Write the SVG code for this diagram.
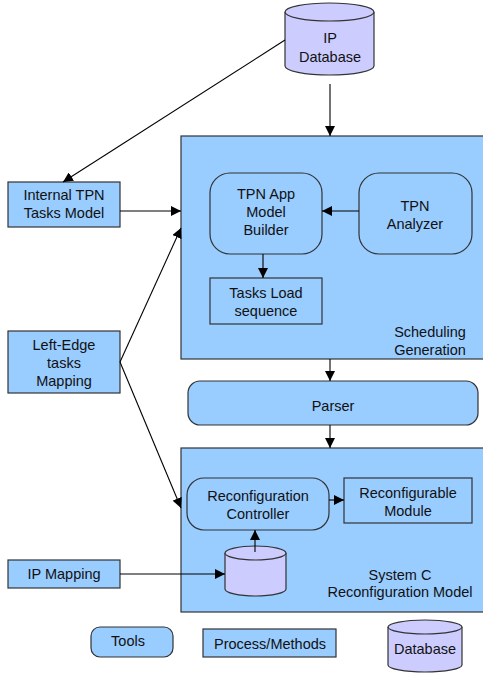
<svg xmlns="http://www.w3.org/2000/svg" width="483" height="673" viewBox="0 0 483 673">
<style>
.b{fill:#99ccff;stroke:#333;stroke-width:1.2}
.d{fill:#ccccff;stroke:#333;stroke-width:1.2}
.c{fill:none;stroke:#000;stroke-width:1.1}
text{font-family:"Liberation Sans",Arial,sans-serif;font-size:14.5px;fill:#111;text-anchor:middle}
</style>
<defs>
<marker id="a" viewBox="0 0 10 10" refX="10" refY="5" markerWidth="10" markerHeight="10" markerUnits="userSpaceOnUse" orient="auto">
<path d="M0,0 L10,5 L0,10 Z" fill="#000"/>
</marker>
</defs>
<rect width="483" height="673" fill="#fff"/>
<g id="sched">
<rect class="b" x="181" y="136" width="310" height="223"/>
<text x="430" y="337">Scheduling</text>
<text x="430" y="355">Generation</text>
</g>
<g id="sysc">
<rect class="b" x="181" y="448" width="310" height="164"/>
<text x="400" y="580">System C</text>
<text x="400" y="597">Reconfiguration Model</text>
</g>
<g id="ipdb">
<path class="d" d="M285,12 L285,66 A44.5,9 0 0 0 374,66 L374,12 A44.5,9 0 0 0 285,12 Z"/>
<path class="d" fill="none" d="M285,12 A44.5,9 0 0 0 374,12"/>
<text x="330" y="43">IP</text>
<text x="330" y="62">Database</text>
</g>
<g id="internal">
<rect class="b" x="8" y="182" width="112" height="45"/>
<text x="64" y="200">Internal TPN</text>
<text x="64" y="218">Tasks Model</text>
</g>
<g id="leftedge">
<rect class="b" x="8" y="331" width="112" height="62"/>
<text x="64" y="350">Left-Edge</text>
<text x="64" y="368">tasks</text>
<text x="64" y="386">Mapping</text>
</g>
<g id="ipmap">
<rect class="b" x="8" y="560" width="112" height="28"/>
<text x="64" y="579">IP Mapping</text>
</g>
<g id="builder">
<rect class="b" x="210" y="173" width="112" height="81" rx="20"/>
<text x="266" y="199">TPN App</text>
<text x="266" y="217">Model</text>
<text x="266" y="235">Builder</text>
</g>
<g id="analyzer">
<rect class="b" x="359" y="173" width="113" height="81" rx="20"/>
<text x="415" y="211">TPN</text>
<text x="415" y="229">Analyzer</text>
</g>
<g id="tasksload">
<rect class="b" x="210" y="278" width="112" height="46"/>
<text x="266" y="298">Tasks Load</text>
<text x="266" y="316">sequence</text>
</g>
<g id="parser">
<rect class="b" x="188" y="381" width="290" height="44" rx="12"/>
<text x="333" y="411">Parser</text>
</g>
<g id="controller">
<rect class="b" x="187" y="478" width="142" height="52" rx="17"/>
<text x="258" y="501">Reconfiguration</text>
<text x="258" y="519">Controller</text>
</g>
<g id="module">
<rect class="b" x="344" y="478" width="128" height="45"/>
<text x="408" y="498">Reconfigurable</text>
<text x="408" y="516">Module</text>
</g>
<g id="smalldb">
<path class="d" d="M225,553 L225,589 A30.5,7 0 0 0 286,589 L286,553 A30.5,7 0 0 0 225,553 Z"/>
<path class="d" fill="none" d="M225,553 A30.5,7 0 0 0 286,553"/>
</g>
<g id="legend-tools">
<rect class="b" x="91" y="627" width="82" height="30" rx="9"/>
<text x="128" y="646">Tools</text>
</g>
<g id="legend-process">
<rect class="b" x="203" y="629" width="133" height="28"/>
<text x="270" y="649">Process/Methods</text>
</g>
<g id="legend-db">
<path class="d" d="M388,627 L388,665 A37,7 0 0 0 462,665 L462,627 A37,7 0 0 0 388,627 Z"/>
<path class="d" fill="none" d="M388,627 A37,7 0 0 0 462,627"/>
<text x="425" y="654">Database</text>
</g>
<g id="connectors">
<line class="c" x1="330" y1="84" x2="330" y2="136" marker-end="url(#a)"/>
<line class="c" x1="285" y1="40" x2="63" y2="182" marker-end="url(#a)"/>
<line class="c" x1="120" y1="211" x2="181" y2="211" marker-end="url(#a)"/>
<line class="c" x1="120" y1="362" x2="181" y2="228" marker-end="url(#a)"/>
<line class="c" x1="120" y1="362" x2="181" y2="508" marker-end="url(#a)"/>
<line class="c" x1="359" y1="211" x2="322" y2="211" marker-end="url(#a)"/>
<line class="c" x1="263" y1="254" x2="263" y2="278" marker-end="url(#a)"/>
<line class="c" x1="330" y1="359" x2="330" y2="381" marker-end="url(#a)"/>
<line class="c" x1="330" y1="425" x2="330" y2="448" marker-end="url(#a)"/>
<line class="c" x1="329" y1="500" x2="344" y2="500" marker-end="url(#a)"/>
<line class="c" x1="255" y1="552" x2="255" y2="530" marker-end="url(#a)"/>
<line class="c" x1="120" y1="574" x2="225" y2="574" marker-end="url(#a)"/>
</g>
</svg>
